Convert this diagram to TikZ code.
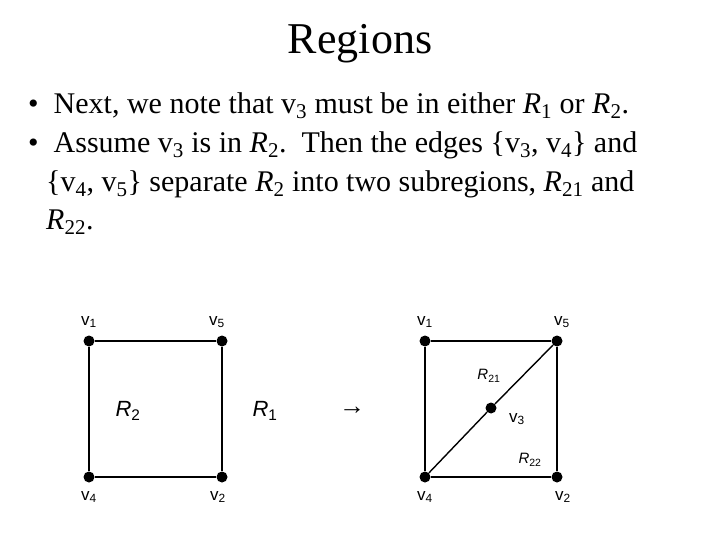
\documentclass[tikz,border=0pt]{standalone}
\usepackage{fontspec}
\setmainfont{Liberation Serif}
\newfontfamily\lab{Liberation Sans}
\newcommand{\sbs}[1]{\textsubscript{#1}}
\begin{document}
\begin{tikzpicture}[x=1pt,y=-1pt,
  dot/.style={circle,fill=black,inner sep=0pt,minimum size=11pt},
  lbl/.style={font=\lab\fontsize{17}{20}\selectfont},
  edge/.style={line width=1.4pt},
  txt/.style={anchor=west,font=\fontsize{30}{34}\selectfont,inner sep=0pt}]
\useasboundingbox (0,0) rectangle (720,540);
\node[font=\fontsize{44}{50}\selectfont] (title) at (360,44) {Regions};
\node[txt] (b1) at (28,106) {\textbullet\ \ Next, we note that v\sbs{3} must be in either \textit{R}\sbs{1} or \textit{R}\sbs{2}.};
\node[txt] (b2) at (28,145) {\textbullet\ \ Assume v\sbs{3} is in \textit{R}\sbs{2}.\ \ Then the edges \{v\sbs{3}, v\sbs{4}\} and};
\node[txt] (b3) at (46,184) {\{v\sbs{4}, v\sbs{5}\} separate \textit{R}\sbs{2} into two subregions, \textit{R}\sbs{21} and};
\node[txt] (b4) at (46,222) {\textit{R}\sbs{22}.};
% left graph
\node[dot] (a1) at (89,341) {};
\node[dot] (a5) at (222,341) {};
\node[dot] (a4) at (89,477) {};
\node[dot] (a2) at (222,477) {};
\draw[edge] (a1)--(a5)--(a2)--(a4)--(a1);
\node[lbl] (la1) at (89,322) {v\sbs{1}};
\node[lbl] (la5) at (217,322) {v\sbs{5}};
\node[lbl] (la4) at (89,497) {v\sbs{4}};
\node[lbl] (la2) at (218,497) {v\sbs{2}};
\node[lbl,font=\lab\fontsize{22}{26}\selectfont] (r2) at (128,411) {\textit{R}\sbs{2}};
\node[lbl,font=\lab\fontsize{22}{26}\selectfont] (r1) at (265,411) {\textit{R}\sbs{1}};
\node[font=\fontsize{26}{30}\selectfont] (arr) at (352,411) {→};
% right graph
\node[dot] (b1n) at (425,341) {};
\node[dot] (b5) at (557,341) {};
\node[dot] (b4n) at (425,477) {};
\node[dot] (b2n) at (557,477) {};
\node[dot] (b3) at (491,408) {};
\draw[edge] (b1n)--(b5)--(b2n)--(b4n)--(b1n);
\draw[edge] (b5)--(b3)--(b4n);
\node[lbl] (lb1) at (425,322) {v\sbs{1}};
\node[lbl] (lb5) at (562,322) {v\sbs{5}};
\node[lbl] (lb4) at (425,497) {v\sbs{4}};
\node[lbl] (lb2) at (563,497) {v\sbs{2}};
\node[lbl] (lb3) at (517,419) {v\sbs{3}};
\node[lbl,font=\lab\fontsize{15}{18}\selectfont] (r21) at (489,376) {\textit{R}\sbs{21}};
\node[lbl,font=\lab\fontsize{15}{18}\selectfont] (r22) at (530,460) {\textit{R}\sbs{22}};
\end{tikzpicture}
\end{document}
